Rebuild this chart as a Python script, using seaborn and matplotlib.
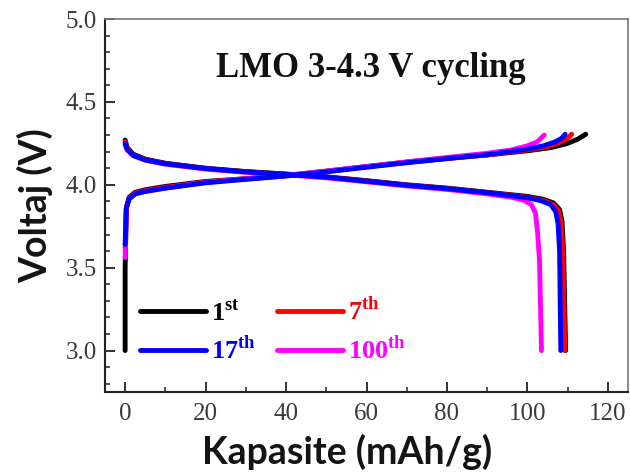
import matplotlib
matplotlib.use("Agg")
import matplotlib.pyplot as plt
from matplotlib.lines import Line2D
import seaborn as sns
import numpy as np

# ---- cycle data: capacity (mAh/g) and voltage (V) ----
cycles = ["1st", "7th", "17th", "100th"]
legend_labels = [r"$\mathbf{1}^{\mathbf{st}}$", r"$\mathbf{7}^{\mathbf{th}}$",
                 r"$\mathbf{17}^{\mathbf{th}}$", r"$\mathbf{100}^{\mathbf{th}}$"]
colors = ["#000000", "#ff0000", "#0000ff", "#ff00ff"]

# charge branches
chg_cap_1 = [0, 0, 0.3, 1, 2.5, 5, 10, 20, 30, 40, 50, 60, 70, 80, 90, 100, 106, 110, 112.5, 114.5]
chg_v_1 = [3.0, 3.5, 3.86, 3.925, 3.955, 3.97, 3.99, 4.02, 4.037, 4.056, 4.082, 4.11, 4.137, 4.16, 4.18, 4.205, 4.225, 4.25, 4.275, 4.305]
chg_cap_7 = [0, 0.3, 1, 2.5, 5, 10, 20, 30, 40, 50, 60, 70, 80, 90, 100, 105, 108, 110, 111]
chg_v_7 = [3.62, 3.86, 3.92, 3.95, 3.965, 3.985, 4.017, 4.035, 4.054, 4.08, 4.108, 4.135, 4.158, 4.18, 4.21, 4.23, 4.255, 4.28, 4.305]
chg_cap_17 = [0, 0.3, 1, 2.5, 5, 10, 20, 30, 40, 50, 60, 70, 80, 90, 100, 104, 107, 108.5, 109.4]
chg_v_17 = [3.64, 3.86, 3.915, 3.945, 3.96, 3.98, 4.012, 4.033, 4.053, 4.078, 4.106, 4.133, 4.158, 4.182, 4.215, 4.235, 4.26, 4.28, 4.305]
chg_cap_100 = [0, 0.3, 1, 2.5, 5, 10, 20, 30, 40, 50, 60, 70, 80, 90, 96, 100, 102.5, 104.2]
chg_v_100 = [3.56, 3.86, 3.915, 3.945, 3.96, 3.98, 4.014, 4.036, 4.057, 4.083, 4.11, 4.138, 4.165, 4.19, 4.21, 4.235, 4.26, 4.30]

# discharge branches
dis_cap_1 = [0, 0.5, 2, 5, 10, 20, 30, 40, 50, 60, 70, 80, 90, 100, 104, 106.5, 108, 108.6, 109, 109.5]
dis_v_1 = [4.27, 4.225, 4.185, 4.155, 4.13, 4.10, 4.08, 4.065, 4.048, 4.025, 4.0, 3.98, 3.955, 3.93, 3.912, 3.89, 3.85, 3.78, 3.6, 3.0]
dis_cap_7 = [0, 0.5, 2, 5, 10, 20, 30, 40, 50, 60, 70, 80, 90, 100, 104, 106.5, 107.8, 108.4, 108.8, 109.3]
dis_v_7 = [4.26, 4.22, 4.18, 4.152, 4.128, 4.098, 4.078, 4.063, 4.046, 4.023, 3.998, 3.978, 3.953, 3.925, 3.905, 3.88, 3.84, 3.77, 3.6, 3.0]
dis_cap_17 = [0, 0.5, 2, 5, 10, 20, 30, 40, 50, 60, 70, 80, 90, 100, 103.5, 105.8, 107, 107.6, 108, 108.3]
dis_v_17 = [4.25, 4.215, 4.178, 4.15, 4.127, 4.098, 4.078, 4.063, 4.046, 4.022, 3.997, 3.977, 3.952, 3.922, 3.903, 3.88, 3.84, 3.77, 3.6, 3.0]
dis_cap_100 = [0, 0.5, 2, 5, 10, 20, 30, 40, 50, 60, 70, 80, 90, 96, 99, 101, 102, 102.5, 103, 103.5]
dis_v_100 = [4.24, 4.21, 4.175, 4.148, 4.124, 4.095, 4.075, 4.06, 4.042, 4.018, 3.993, 3.972, 3.945, 3.925, 3.908, 3.88, 3.83, 3.72, 3.55, 3.0]

charge = {"1st": (chg_cap_1, chg_v_1), "7th": (chg_cap_7, chg_v_7),
          "17th": (chg_cap_17, chg_v_17), "100th": (chg_cap_100, chg_v_100)}
discharge = {"1st": (dis_cap_1, dis_v_1), "7th": (dis_cap_7, dis_v_7),
             "17th": (dis_cap_17, dis_v_17), "100th": (dis_cap_100, dis_v_100)}

x_ticks = [0, 20, 40, 60, 80, 100, 120]
y_ticks = [3.0, 3.5, 4.0, 4.5, 5.0]

sns.set_style("ticks")
plt.rcParams["font.family"] = ["Liberation Serif", "DejaVu Serif"]
plt.rcParams["mathtext.fontset"] = "custom"
plt.rcParams["mathtext.rm"] = "Liberation Serif"
plt.rcParams["mathtext.bf"] = "Liberation Serif:bold"

fig = plt.figure(figsize=(6.3, 4.75), dpi=100)
ax = fig.add_axes([0.1667, 0.1747, 0.8301, 0.7853])

# magenta is drawn before blue so the 17th cycle sits on top
draw_order = ["1st", "7th", "100th", "17th"]
for name in draw_order:
    c = colors[cycles.index(name)]
    for branch in (charge, discharge):
        cap, v = branch[name]
        sns.lineplot(x=cap, y=v, sort=False, estimator=None, color=c,
                     lw=3.5, ax=ax, legend=False, solid_capstyle="round")

ax.set_xlim(-5, 125)
ax.set_ylim(2.75, 5.0)
ax.set_xticks(x_ticks)
ax.set_yticks(y_ticks)
ax.set_yticklabels([f"{t:.1f}" for t in y_ticks])
ax.set_xticks(np.arange(-0, 126, 10), minor=True)
ax.set_yticks(np.arange(2.8, 5.0, 0.1), minor=True)
ax.tick_params(which="major", direction="in", length=7, width=1.3,
               labelsize=18, labelcolor="#3a3a3a", color="#222222", pad=6)
ax.tick_params(which="minor", direction="in", length=3.5, width=1.1, color="#222222")
ax.tick_params(axis="x", which="major", pad=8)

for side in ("left", "bottom"):
    ax.spines[side].set_linewidth(1.5)
    ax.spines[side].set_color("#222222")
for side in ("top", "right"):
    ax.spines[side].set_visible(True)
    ax.spines[side].set_linewidth(1.2)
    ax.spines[side].set_color("#777777")

ax.set_xlabel("Kapasite (mAh/g)", family="Lato", fontweight="bold", fontsize=27,
              color="#141414")
ax.xaxis.set_label_coords(0.463, -0.112)
ax.set_ylabel("Voltaj (V)", family="Lato", fontweight="bold", fontsize=27,
              color="#141414", labelpad=9)

ax.text(0.508, 0.866, "LMO 3-4.3 V cycling", transform=ax.transAxes,
        ha="center", va="center", fontsize=25, fontweight="bold", color="#111111")

handles = [Line2D([], [], color=c, lw=3.5) for c in colors]
order = [0, 2, 1, 3]
leg = ax.legend([handles[i] for i in order], [legend_labels[i] for i in order],
                ncol=2, loc="lower left", bbox_to_anchor=(0.066, 0.075),
                frameon=False, fontsize=19, handlelength=2.5, handletextpad=0.2,
                columnspacing=0.8, labelspacing=0.42, borderpad=0, borderaxespad=0)
for txt, i in zip(leg.get_texts(), order):
    txt.set_color(colors[i])

fig.savefig("out.png", dpi=100)
